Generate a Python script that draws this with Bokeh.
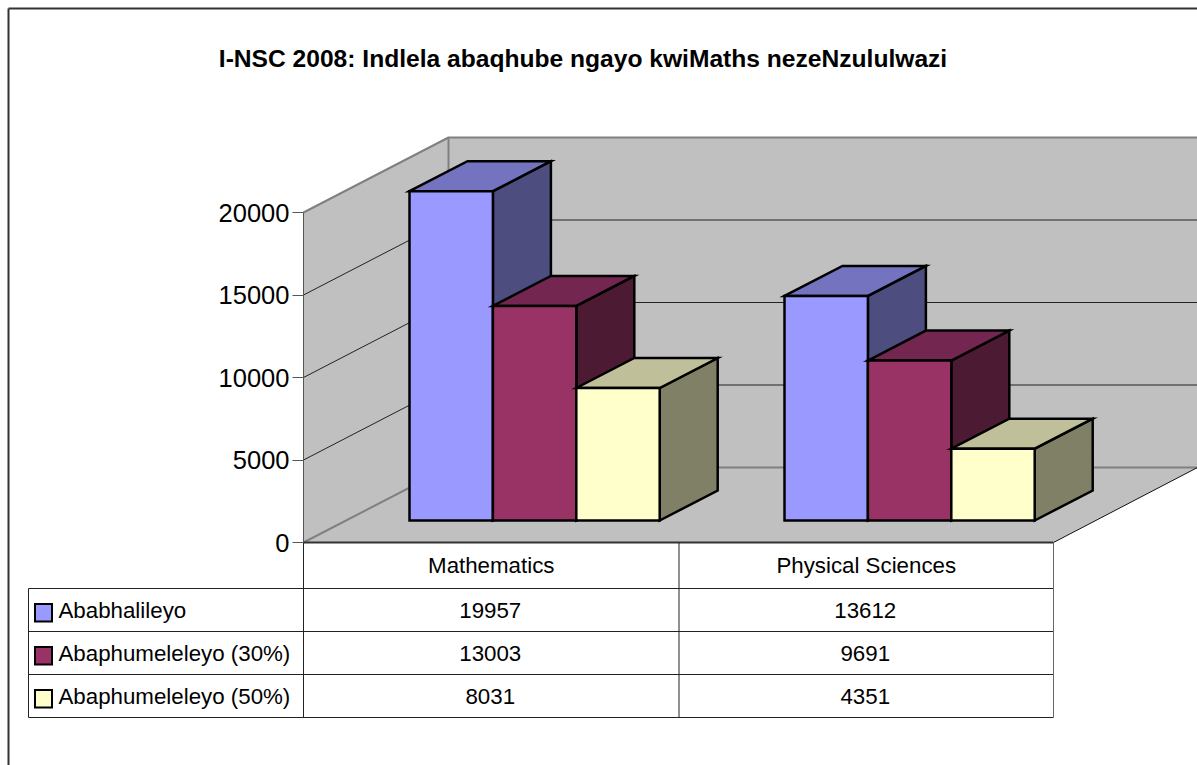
from bokeh.plotting import figure
from bokeh.models import Range1d, LinearAxis, FixedTicker
from bokeh.core.properties import value
from bokeh.embed import file_html
from bokeh.resources import INLINE

title = "I-NSC 2008: Indlela abaqhube ngayo kwiMaths nezeNzululwazi"
categories = ["Mathematics", "Physical Sciences"]
series_names = ["Ababhalileyo", "Abaphumeleleyo (30%)", "Abaphumeleleyo (50%)"]
written = [19957, 13612]
pass30 = [13003, 9691]
pass50 = [8031, 4351]
y_ticks = [0, 5000, 10000, 15000, 20000]

FONT = "Liberation Sans"
W, H = 1197, 765
OX, OY = 0, 0
Y0 = 542
S = 0.0165  # px per unit


def V(py):
    return (Y0 - py) / S


p = figure(width=W, height=H, output_backend="svg", toolbar_location=None,
           x_range=Range1d(OX, OX + W), y_range=Range1d(V(OY + H), V(OY)),
           min_border=0, outline_line_color=None, x_axis_location=None, y_axis_location=None)
p.grid.visible = False
p.background_fill_color = "white"

# chart border
p.line([8, 8], [V(765), V(8)], line_color="#333333", line_width=2)
p.line([8, 1197], [V(8), V(8)], line_color="#333333", line_width=2)

# walls
XF, XB, XR, XFR = 303, 448, 1197, 1053
DXW, DVW = 145, V(467)
p.patch([XF, XB, XB, XF], [20000, 20000 + DVW, DVW, 0], fill_color="#C0C0C0", line_color=None)
p.patch([XB, XR, XR, XB], [20000 + DVW, 20000 + DVW, DVW, DVW], fill_color="#C0C0C0", line_color=None)
p.patch([XF, XB, XR, XFR], [0, DVW, DVW, 0], fill_color="#C0C0C0", line_color=None)

for t in y_ticks[1:-1]:
    p.line([XF, XB, XR], [t, t + DVW, t + DVW], line_color="#222222", line_width=1)
# wall edges
GREY = "#808080"
p.line([XF, XB, XR], [20000, 20000 + DVW, 20000 + DVW], line_color=GREY, line_width=2)
p.line([XB, XB], [20000 + DVW, DVW], line_color=GREY, line_width=2)
p.line([XF, XB, XR], [0, DVW, DVW], line_color=GREY, line_width=2)
p.line([XFR, XR], [0, DVW], line_color="#111111", line_width=1)
p.line([XF, XFR], [0, 0], line_color="#333333", line_width=2)

# bars
groups_x = [409, 784]
BW = 83.4
DX, DV = 58, 30 / S
BASE = V(520)
series = [written, pass30, pass50]
colors = [("#9999FF", "#7373BF", "#4D4D80"), ("#993366", "#732650", "#4D1A33"), ("#FFFFCC", "#BFBF99", "#808066")]
for g, gx in enumerate(groups_x):
    for s, vals in enumerate(series):
        v = vals[g]
        x0, x1 = gx + s * BW, gx + (s + 1) * BW
        top = BASE + v
        front, upper, side = colors[s]
        kw = dict(line_color="black", line_width=2.5, line_join="miter")
        p.patch([x1, x1 + DX, x1 + DX, x1], [BASE, BASE + DV, top + DV, top], fill_color=side, **kw)
        p.patch([x0, x0 + DX, x1 + DX, x1], [top, top + DV, top + DV, top], fill_color=upper, **kw)
        p.patch([x0, x1, x1, x0], [BASE, BASE, top, top], fill_color=front, **kw)

# axis
ax = LinearAxis(fixed_location=XF, ticker=FixedTicker(ticks=y_ticks), bounds=(0, 20000))
ax.axis_line_color = "#555555"
ax.axis_line_width = 1
ax.major_tick_line_color = "#555555"
ax.major_tick_out = 11
ax.major_tick_in = 0
ax.minor_tick_line_color = None
ax.major_label_text_font = FONT
ax.major_label_text_font_size = "25.5px"
ax.major_label_text_color = "black"
ax.major_label_standoff = 3
ax.formatter.use_scientific = False
p.add_layout(ax, "left")

# data table
ROWS = [588, 631, 674, 717]
XT0, XMID = 28, 678.5
for i, py in enumerate(ROWS):
    p.line([XT0, XFR], [V(py), V(py)], line_color="#222222", line_width=1)
for x, top_py, col in [(XT0, 588, "#222222"), (XF, 542, "#222222"), (XMID, 542, "#222222"), (XFR, 542, "#666666")]:
    p.line([x, x], [V(top_py), V(717)], line_color=col, line_width=1)

cx = [(XF + XMID) / 2, (XMID + XFR) / 2]
txt = dict(text_font=value(FONT), text_font_size="22.3px", text_color="black", text_baseline="middle")
p.text(cx, [V(564.5)] * 2, text=categories, text_align="center", **txt)
for r, vals in enumerate(series):
    yr = V(ROWS[r] + 21.5)
    p.text([c - 1 for c in cx], [yr] * 2, text=[str(a) for a in vals], text_align="center", **txt)
    p.text([58], [yr], text=[series_names[r]], text_align="left", **txt)
    p.quad(left=[34.5], right=[51.5], top=[V(ROWS[r] + 15.5)], bottom=[V(ROWS[r] + 33)],
           fill_color=colors[r][0], line_color="black", line_width=2, line_join="miter")

p.text([582.5], [V(58)], text=[title], text_align="center", text_baseline="middle",
       text_font=value(FONT), text_font_size="24.6px", text_font_style="bold", text_color="black")

open("out.html", "w").write(file_html(p, INLINE))
